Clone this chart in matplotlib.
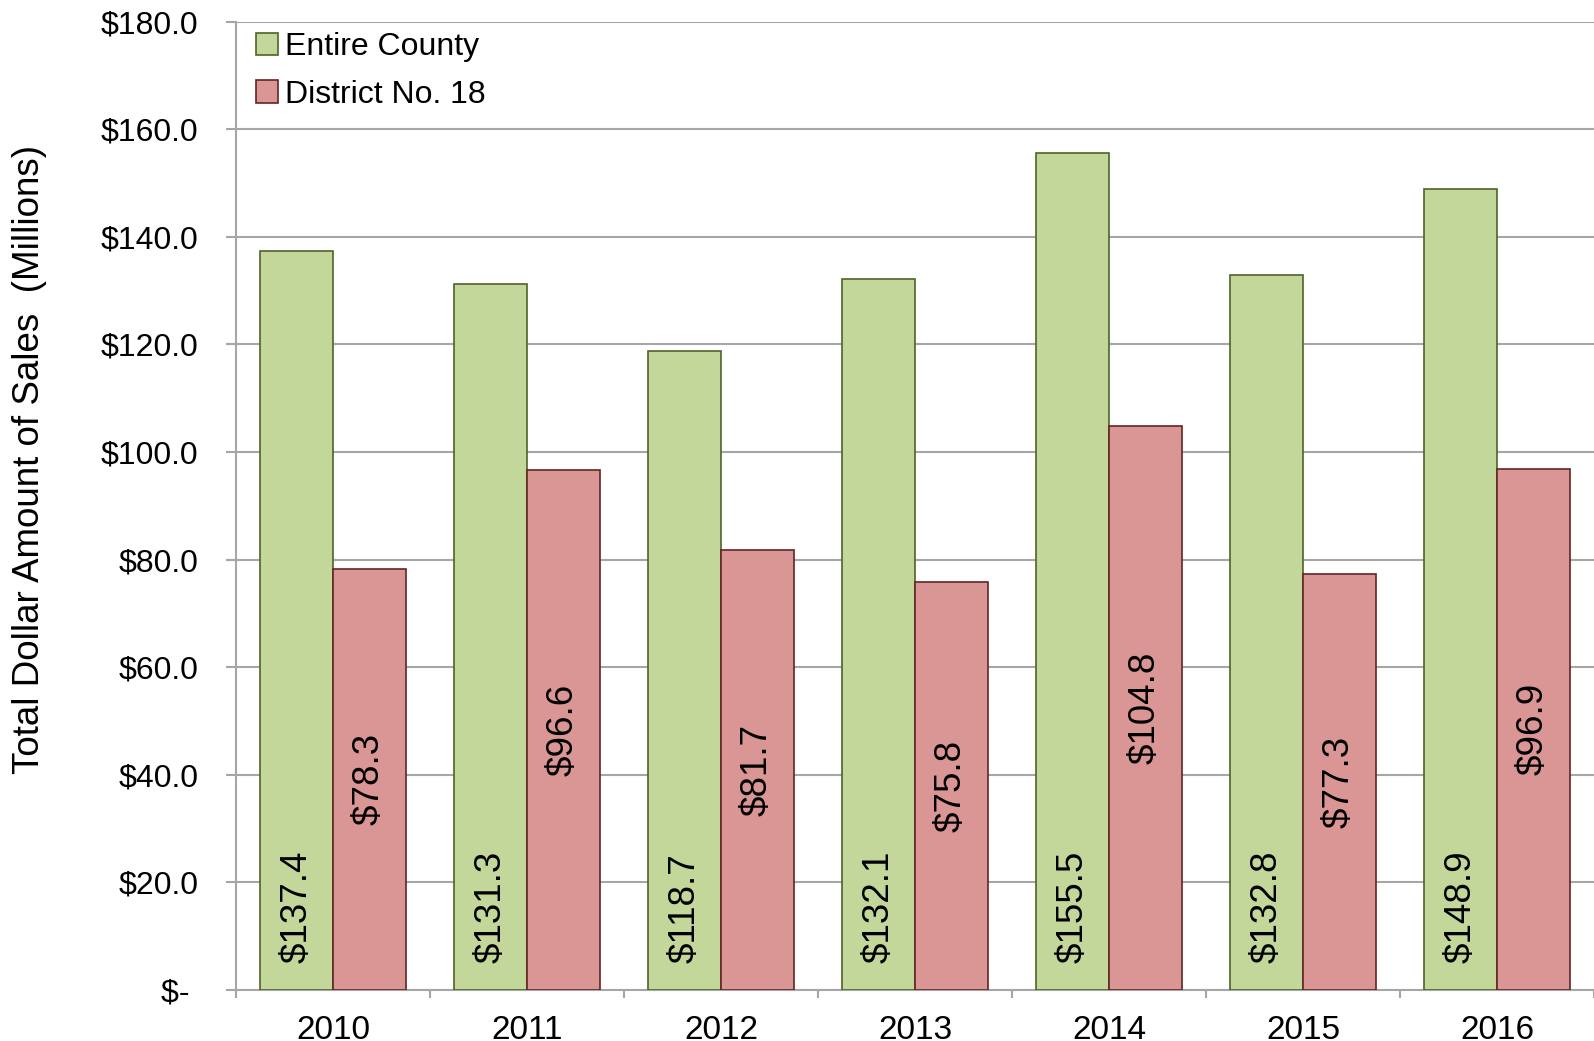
import numpy as np
import matplotlib.pyplot as plt
from matplotlib.ticker import FuncFormatter

plt.rcParams['font.family'] = ['Liberation Sans', 'DejaVu Sans']

years = ['2010', '2011', '2012', '2013', '2014', '2015', '2016']
county = [137.4, 131.3, 118.7, 132.1, 155.5, 132.8, 148.9]
district = [78.3, 96.6, 81.7, 75.8, 104.8, 77.3, 96.9]

green, green_edge = '#C4D79B', '#4F6228'
red, red_edge = '#DA9694', '#632523'
grid_c = '#A6A6A6'

fig = plt.figure(figsize=(15.94, 10.41), dpi=100)
ax = fig.add_axes([236 / 1594, 1 - 990 / 1041, 1 - 236 / 1594, (990 - 21.5) / 1041])

x = np.arange(len(years))
w = 0.374
ax.bar(x - w / 2, county, w, color=green, edgecolor=green_edge, linewidth=1.2,
       label='Entire County', zorder=3)
ax.bar(x + w / 2, district, w, color=red, edgecolor=red_edge, linewidth=1.2,
       label='District No. 18', zorder=3)

# labels: county inside base, district centered
for xi, v in zip(x, county):
    ax.annotate(f'${v:.1f}', (xi - w / 2, 0), xytext=(0, 27), textcoords='offset pixels',
                rotation=90, ha='center', va='bottom', fontsize=26.5, zorder=4)
for xi, v in zip(x, district):
    ax.text(xi + w / 2, v / 2, f'${v:.1f}', rotation=90, ha='center', va='center',
            fontsize=26.5, zorder=4)

ax.set_xlim(-0.5, len(years) - 0.5)
ax.set_ylim(0, 180)
ax.set_yticks(np.arange(0, 181, 20))
ax.yaxis.set_major_formatter(FuncFormatter(lambda v, p: '$- ' if v == 0 else f'${v:.1f}'))
ax.set_xticks(x)
ax.set_xticklabels(years)
ax.set_xticks(np.arange(-0.5, len(years), 1), minor=True)
ax.tick_params(axis='x', which='major', length=0, labelsize=24, pad=18)
ax.tick_params(axis='x', which='minor', length=6, color=grid_c, width=1.5)
ax.tick_params(axis='y', length=7, color=grid_c, width=1.5, labelsize=23, pad=20)

ax.grid(axis='y', color=grid_c, linewidth=1.5, zorder=0)
for s in ['top', 'right']:
    ax.spines[s].set_visible(False)
ax.spines['left'].set_color(grid_c)
ax.spines['bottom'].set_color(grid_c)
ax.spines['left'].set_linewidth(1.5)
ax.spines['bottom'].set_linewidth(1.5)

fig.text(30 / 1594, 1 - 460 / 1041, 'Total Dollar Amount of Sales  (Millions)',
         rotation=90, ha='center', va='center', fontsize=26.5)

ax.legend(loc='upper left', bbox_to_anchor=(0.004, 1.004), frameon=False, fontsize=23,
          handlelength=0.7, handleheight=0.7, handletextpad=0.2, labelspacing=0.55,
          borderaxespad=0.15, borderpad=0.3)

fig.savefig('out.png', dpi=100)
